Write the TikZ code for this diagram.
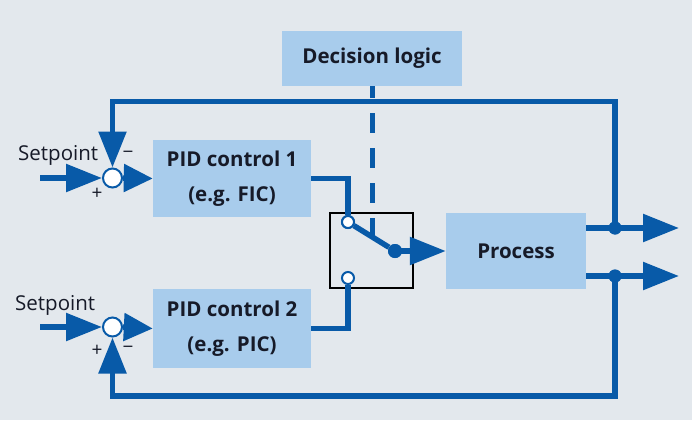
\documentclass[tikz,border=0pt]{standalone}
\usepackage{fontspec}
\setmainfont{Open Sans}
\usetikzlibrary{arrows.meta}
\definecolor{bgc}{RGB}{227,232,237}
\definecolor{boxc}{RGB}{168,204,236}
\definecolor{linec}{RGB}{8,90,168}
\definecolor{txtc}{RGB}{22,26,40}
\begin{document}
\begin{tikzpicture}[x=1pt,y=-1pt,
  blk/.style={draw=none,fill=boxc,text=txtc,font=\fontsize{20.5}{35}\selectfont\bfseries,align=center,inner sep=0pt},
  ln/.style={draw=linec,line width=5.5pt},
  arr/.style={ln,-{Triangle[length=36pt,width=27pt]}},
  sarr/.style={ln,-{Triangle[length=29pt,width=27pt]}},
  sumc/.style={circle,draw=linec,line width=2pt,fill=white,minimum size=19pt,inner sep=0pt},
  cont/.style={circle,draw=linec,line width=2pt,fill=white,minimum size=12pt,inner sep=0pt},
  bdot/.style={circle,fill=linec,minimum size=13pt,inner sep=0pt},
  lbl/.style={text=txtc,font=\fontsize{20.5}{24}\selectfont,inner sep=0pt},
  sgn/.style={text=txtc,font=\fontsize{19}{22}\selectfont,inner sep=0pt}]
\fill[bgc] (0,0) rectangle (692,420);
\useasboundingbox (0,0) rectangle (692,420);

% blocks
\node[blk,minimum width=180pt,minimum height=55pt] (dec) at (372,58.5) {Decision logic};
\node[blk,minimum width=158pt,minimum height=77pt] (pid1) at (232,178.5) {PID control 1\\(e.g. FIC)};
\node[blk,minimum width=158pt,minimum height=79pt] (pid2) at (232,328.5) {PID control 2\\(e.g. PIC)};
\node[blk,minimum width=140pt,minimum height=76pt] (proc) at (516,251) {Process};

% switch box
\node[draw=black,line width=1.5pt,minimum width=83pt,minimum height=75pt,inner sep=0pt] (sw) at (371.5,250.5) {};

% coordinates
\coordinate (in1) at (40,178);
\coordinate (in2) at (40,327);
\coordinate (tl) at (112.5,101.5);
\coordinate (tr) at (615,101.5);
\coordinate (bl) at (112.5,396);
\coordinate (br) at (615,396);
\coordinate (out1) at (679,228);
\coordinate (out2) at (679,276);
\coordinate (dend) at (372,237);

% dashed decision line
\draw[draw=linec,line width=5pt,dash pattern=on 20pt off 15pt,dash phase=8pt] (dec.south) -- (dend);

% summing junctions
\node[sumc] (sum1) at (112.5,178) {};
\node[sumc] (sum2) at (112.5,327) {};

% contacts and dots
\node[cont] (c1) at (348,222) {};
\node[cont] (c2) at (348,278) {};
\node[bdot,minimum size=14pt] (dot) at (395,251) {};
\node[bdot] (j1) at (615,228) {};
\node[bdot] (j2) at (615,276) {};

% connectors
\draw[arr] (in1) -- (sum1.west);
\draw[arr] (in2) -- (sum2.west);
\draw[sarr] (sum1.east) -- (pid1.west);
\draw[sarr] (sum2.east) -- (pid2.west);
\draw[ln] (pid1.east) -- (c1 |- pid1.east) -- (c1.north);
\draw[ln] (pid2.east) -- (c2 |- pid2.east) -- (c2.south);
\draw[ln] (c1) -- (dot);
\draw[arr] (dot.center) -- (proc.west);
\draw[arr] (j1 -| proc.east) -- (out1);
\draw[arr] (j2 -| proc.east) -- (out2);
\draw[arr] (j1.center) -- (tr) -- (tl) -- (sum1.north);
\draw[arr] (j2.center) -- (br) -- (bl) -- (sum2.south);
\node[cont] at (c1) {};
\node[bdot,minimum size=14pt] at (dot) {};
\node[bdot] at (j1) {};
\node[bdot] at (j2) {};

% labels
\node[lbl,anchor=base west] (sp1) at (18,160) {Setpoint};
\node[lbl,anchor=base west] (sp2) at (15,310) {Setpoint};
\node[sgn] (m1) at (128,155) {−};
\node[sgn] (p1) at (97,194) {+};
\node[sgn] (p2) at (97,351) {+};
\node[sgn] (m2) at (128,350) {−};
\end{tikzpicture}
\end{document}
